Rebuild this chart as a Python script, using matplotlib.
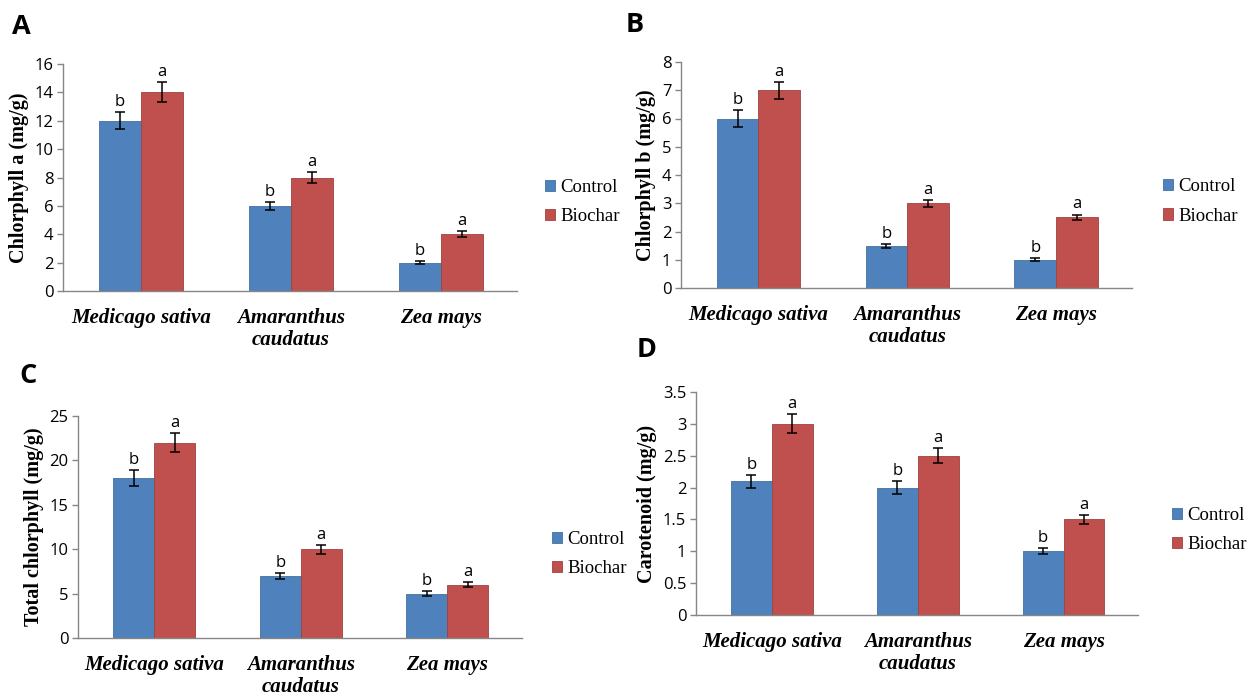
import numpy as np
import matplotlib
matplotlib.use("Agg")
import matplotlib.pyplot as plt

# ---- data ----
species = ["Medicago sativa", "Amaranthus\ncaudatus", "Zea mays"]
groups = ["Control", "Biochar"]

chl_a_control = [12, 6, 2]
chl_a_biochar = [14, 8, 4]
chl_a_control_err = [0.6, 0.3, 0.1]
chl_a_biochar_err = [0.7, 0.4, 0.2]

chl_b_control = [6, 1.5, 1]
chl_b_biochar = [7, 3, 2.5]
chl_b_control_err = [0.3, 0.07, 0.05]
chl_b_biochar_err = [0.3, 0.12, 0.1]

total_control = [18, 7, 5]
total_biochar = [22, 10, 6]
total_control_err = [0.9, 0.35, 0.25]
total_biochar_err = [1.1, 0.5, 0.3]

carot_control = [2.1, 2.0, 1.0]
carot_biochar = [3.0, 2.5, 1.5]
carot_control_err = [0.1, 0.1, 0.05]
carot_biochar_err = [0.15, 0.12, 0.07]

sig_control = ["b", "b", "b"]
sig_biochar = ["a", "a", "a"]

BLUE = "#4F81BD"
RED = "#C0504D"
AXIS_GREY = "#868686"
SERIF = "Liberation Serif"
SANS = "Open Sans"


def draw_panel(fig, rect, ctrl, bio, ctrl_err, bio_err, ylabel, ymax, ystep,
               letter, letter_xy, legend_xy):
    ax = fig.add_axes(rect)
    x = np.arange(len(species))
    w = 0.28
    ax.bar(x - w / 2, ctrl, w, color=BLUE, edgecolor="#41719C", linewidth=0.6,
           label=groups[0], zorder=2)
    ax.bar(x + w / 2, bio, w, color=RED, edgecolor="#9E413E", linewidth=0.6,
           label=groups[1], zorder=2)
    ax.errorbar(x - w / 2, ctrl, yerr=ctrl_err, fmt="none", ecolor="black",
                elinewidth=1.1, capsize=3.5, capthick=1.1, zorder=3)
    ax.errorbar(x + w / 2, bio, yerr=bio_err, fmt="none", ecolor="black",
                elinewidth=1.1, capsize=3.5, capthick=1.1, zorder=3)

    for xi, v, e, s in zip(x - w / 2, ctrl, ctrl_err, sig_control):
        ax.annotate(s, (xi, v + e), xytext=(0, 1.5), textcoords="offset points",
                    ha="center", va="bottom", fontsize=12, family=SANS)
    for xi, v, e, s in zip(x + w / 2, bio, bio_err, sig_biochar):
        ax.annotate(s, (xi, v + e), xytext=(0, 1.5), textcoords="offset points",
                    ha="center", va="bottom", fontsize=12, family=SANS)

    ax.set_xlim(-0.52, len(species) - 0.49)
    ax.set_ylim(0, ymax)
    ax.set_yticks(np.arange(0, ymax + ystep / 2, ystep))
    ax.yaxis.set_major_formatter(matplotlib.ticker.FuncFormatter(
        lambda v, p: f"{v:g}"))
    ax.set_xticks(x)
    ax.set_xticklabels(species, family=SERIF, fontweight="bold",
                       fontstyle="italic", fontsize=15, linespacing=1.15)
    for lab in ax.get_yticklabels():
        lab.set_family(SANS)
        lab.set_fontsize(12)
    ax.tick_params(axis="x", length=0, pad=12)
    ax.tick_params(axis="y", length=4, width=1, color=AXIS_GREY, pad=3)
    ax.set_ylabel(ylabel, family=SERIF, fontweight="bold", fontsize=14.5,
                  labelpad=4)

    for side in ("top", "right"):
        ax.spines[side].set_visible(False)
    for side in ("left", "bottom"):
        ax.spines[side].set_color(AXIS_GREY)
        ax.spines[side].set_linewidth(1)

    fig.text(letter_xy[0], letter_xy[1], letter, family=SANS,
             fontweight="bold", fontsize=19.5, ha="left", va="baseline")

    ax.legend(loc="center left", bbox_to_anchor=legend_xy,
              bbox_transform=fig.transFigure, frameon=False,
              prop={"family": SERIF, "size": 13.5},
              handlelength=0.55, handleheight=0.55, handletextpad=0.25,
              labelspacing=0.65, borderpad=0, borderaxespad=0)
    return ax


fig = plt.figure(figsize=(12.5, 6.99), dpi=100)

draw_panel(fig, [63 / 1250, 1 - 291 / 699, 454 / 1250, 227 / 699],
           chl_a_control, chl_a_biochar, chl_a_control_err, chl_a_biochar_err,
           "Chlorphyll a (mg/g)", 16, 2,
           "A", (12 / 1250, 1 - 34 / 699), (545 / 1250, 1 - 202 / 699))

draw_panel(fig, [681 / 1250, 1 - 288 / 699, 451 / 1250, 226 / 699],
           chl_b_control, chl_b_biochar, chl_b_control_err, chl_b_biochar_err,
           "Chlorphyll b (mg/g)", 8, 1,
           "B", (626 / 1250, 1 - 32 / 699), (1163 / 1250, 1 - 201.5 / 699))

draw_panel(fig, [78 / 1250, 1 - 638 / 699, 444 / 1250, 222 / 699],
           total_control, total_biochar, total_control_err, total_biochar_err,
           "Total chlorphyll (mg/g)", 25, 5,
           "C", (19 / 1250, 1 - 383 / 699), (552 / 1250, 1 - 554 / 699))

draw_panel(fig, [696 / 1250, 1 - 615 / 699, 442 / 1250, 223 / 699],
           carot_control, carot_biochar, carot_control_err, carot_biochar_err,
           "Carotenoid (mg/g)", 3.5, 0.5,
           "D", (637 / 1250, 1 - 357 / 699), (1172 / 1250, 1 - 530 / 699))

fig.savefig("out.png", dpi=100)
